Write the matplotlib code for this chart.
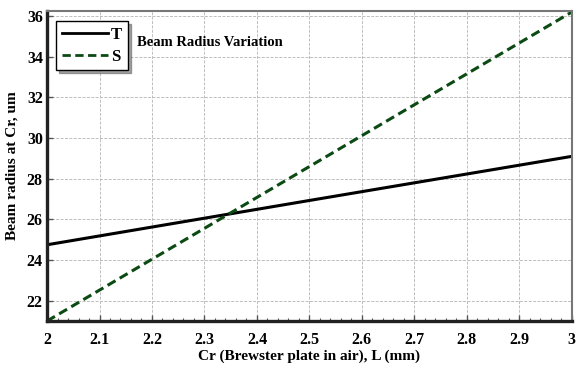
import numpy as np
import matplotlib
matplotlib.use('Agg')
import matplotlib.pyplot as plt
from matplotlib.ticker import AutoMinorLocator

# data
L_mm = [2.0, 2.5, 3.0]
T_radius = [24.75, 26.93, 29.1]
S_radius = [21.0, 28.6, 36.2]
x_ticks = [2, 2.1, 2.2, 2.3, 2.4, 2.5, 2.6, 2.7, 2.8, 2.9, 3]
x_tick_labels = ['2', '2.1', '2.2', '2.3', '2.4', '2.5', '2.6', '2.7', '2.8', '2.9', '3']
y_ticks = [22, 24, 26, 28, 30, 32, 34, 36]

plt.rcParams['font.family'] = ['Liberation Serif', 'DejaVu Serif']
plt.rcParams['font.weight'] = 'bold'

fig = plt.figure(figsize=(5.77, 3.67), dpi=100)
ax = fig.add_axes([0.0815, 0.1253, 0.9095, 0.8447])

ax.plot(L_mm, T_radius, color='black', lw=2.2, label='T')
ax.plot(L_mm, S_radius, color='#0b4a12', lw=2.2, ls=(0, (3, 1.6)), label='S')

ax.set_xlim(2, 3)
ax.set_ylim(21, 36.25)
ax.set_xticks(x_ticks)
ax.set_xticklabels(x_tick_labels)
ax.set_yticks(y_ticks)
ax.xaxis.set_minor_locator(AutoMinorLocator(5))

ax.grid(True, which='major', color='#bdbdbd', ls=(0, (3, 1.5)), lw=0.7)
ax.tick_params(axis='both', which='major', direction='in', length=4, width=1,
               labelsize=11.5, color='#555555')
ax.tick_params(axis='x', which='major', pad=8)
ax.tick_params(axis='y', which='major', pad=3)
ax.tick_params(axis='x', which='minor', direction='in', length=2, width=0.8,
               color='#555555')
for lab in ax.get_xticklabels() + ax.get_yticklabels():
    lab.set_fontweight('bold')

for side in ['left', 'bottom']:
    ax.spines[side].set_linewidth(2.4)
    ax.spines[side].set_color('#222222')
for side in ['top', 'right']:
    ax.spines[side].set_linewidth(1.5)
    ax.spines[side].set_color('#777777')

ax.set_xlabel('Cr (Brewster plate in air), L (mm)', fontsize=11, fontweight='bold', labelpad=1)
ax.set_ylabel('Beam radius at Cr, um', fontsize=11, fontweight='bold', labelpad=6)

leg = ax.legend(loc='upper left', bbox_to_anchor=(0.017, 0.968),
                handlelength=2.8, handletextpad=0.15, borderpad=0.35, labelspacing=0.35,
                borderaxespad=0.0,
                fancybox=False, shadow=True, framealpha=1, edgecolor='black',
                prop={'weight': 'bold', 'size': 12})
leg.get_frame().set_linewidth(1.0)
for line in leg.get_lines():
    line.set_linewidth(2.0)

ax.text(0.172, 0.897, 'Beam Radius Variation', transform=ax.transAxes,
        fontsize=10.5, fontweight='bold', va='center', ha='left')

fig.savefig('out.png', dpi=100)
